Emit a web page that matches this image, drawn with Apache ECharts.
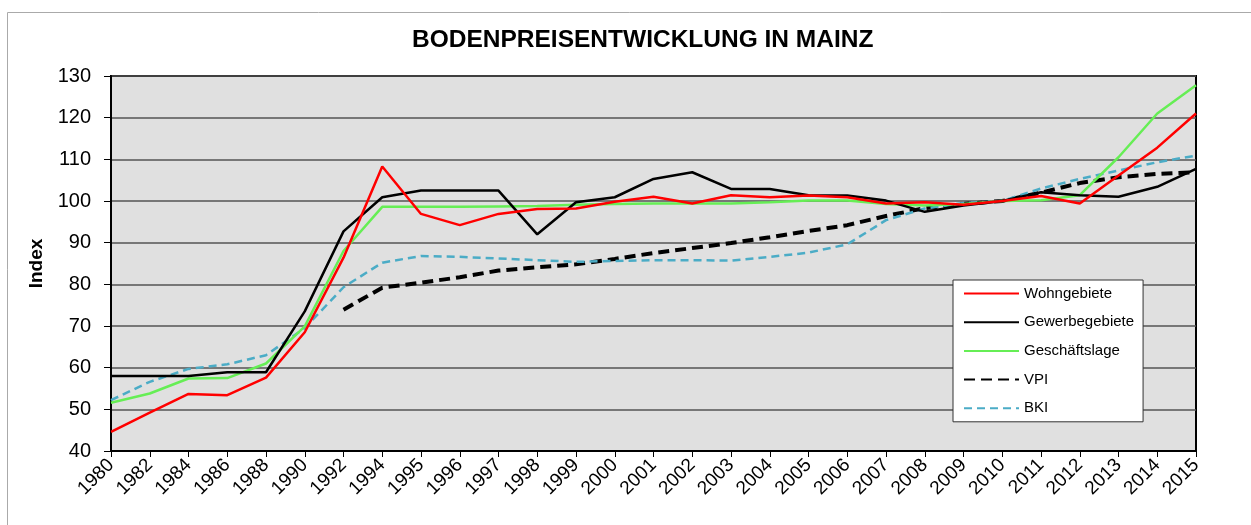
<!DOCTYPE html>
<html>
<head>
<meta charset="utf-8">
<script src="https://cdn.jsdelivr.net/npm/echarts@6/dist/echarts.min.js"></script>
<style>
  html, body { margin: 0; padding: 0; background: #fff; }
  #main { width: 1251px; height: 525px; }
</style>
</head>
<body>
<div id="main"></div>
<script>
var years = ["1980", "1982", "1984", "1986", "1988", "1990", "1992", "1994", "1995", "1996",
  "1997", "1998", "1999", "2000", "2001", "2002", "2003", "2004", "2005", "2006", "2007",
  "2008", "2009", "2010", "2011", "2012", "2013", "2014", "2015"];

var wohngebiete = [44.6, 49.2, 53.7, 53.4, 57.6, 68.5, 86.4, 108.3, 96.9, 94.2, 96.9, 98.1, 98.2, 99.8,
  101.0, 99.4, 101.4, 100.9, 101.3, 100.9, 99.4, 99.7, 99.1, 100, 101.2, 99.4, 106.1, 112.8, 121];
var gewerbegebiete = [58, 58, 58, 58.9, 58.9, 73.5, 92.7, 100.9, 102.5, 102.5, 102.5, 92, 99.7, 100.9,
  105.3, 106.9, 102.9, 102.9, 101.4, 101.3, 100.1, 97.4, 98.9, 100, 102.1, 101.4, 101, 103.4, 107.7];
var geschaeftslage = [51.6, 53.8, 57.4, 57.5, 61, 69.9, 88, 98.6, 98.6, 98.6, 98.7, 98.8, 99.1, 99.3,
  99.4, 99.4, 99.4, 99.7, 100.1, 100.1, 99.3, 98.9, 99.3, 100, 100.2, 101.4, 110.5, 121, 127.8];
var vpi = [null, null, null, null, null, null, 73.9, 79.2, 80.4, 81.7, 83.3, 84.1, 84.8, 86.1,
  87.5, 88.7, 89.9, 91.3, 92.8, 94.2, 96.4, 98.3, 99.3, 100, 102, 104.3, 105.7, 106.5, 106.9];
var bki = [52.2, 56.6, 59.7, 60.8, 63, 69.5, 79.3, 85.2, 86.8, 86.6, 86.2, 85.8, 85.4, 85.6,
  85.8, 85.8, 85.7, 86.6, 87.6, 89.6, 95.4, 98.2, 99.5, 100, 103, 105.3, 107.3, 109.3, 110.9];

var font = 'Arial, "Liberation Sans", sans-serif';

var chart = echarts.init(document.getElementById("main"));
chart.setOption({
  backgroundColor: "#fff",
  animation: false,
  textStyle: { fontFamily: font },
  title: {
    text: "BODENPREISENTWICKLUNG IN MAINZ",
    left: 407,
    top: 23,
    textStyle: { fontSize: 24.5, fontWeight: "bold", color: "#000", fontFamily: font }
  },
  graphic: [
    {
      type: "rect",
      shape: { x: 7.5, y: 12.5, width: 1400, height: 700 },
      style: { fill: "none", stroke: "#aaa", lineWidth: 1 },
      silent: true
    }
  ],
  grid: {
    left: 111,
    right: 55,
    top: 76,
    bottom: 74,
    show: true,
    backgroundColor: "#e0e0e0",
    borderColor: "#000",
    borderWidth: 2
  },
  legend: {
    orient: "vertical",
    left: 953,
    top: 280,
    backgroundColor: "#fff",
    borderColor: "#333",
    borderWidth: 1,
    padding: [6, 9, 6, 10],
    itemWidth: 55,
    itemHeight: 16,
    itemGap: 13.7,
    itemStyle: { opacity: 0 },
    textStyle: { fontSize: 15, color: "#000", fontFamily: font },
    data: ["Wohngebiete", "Gewerbegebiete", "Geschäftslage", "VPI", "BKI"]
  },
  xAxis: {
    type: "category",
    data: years,
    boundaryGap: false,
    axisLine: { lineStyle: { color: "#000", width: 2 } },
    axisTick: { show: true, length: 6, alignWithLabel: true, lineStyle: { color: "#000", width: 1 } },
    axisLabel: { rotate: 45, fontSize: 19, color: "#000", margin: 11, interval: 0, fontFamily: font },
    splitLine: { show: false }
  },
  yAxis: {
    type: "value",
    min: 40,
    max: 130,
    interval: 10,
    name: "Index",
    nameLocation: "middle",
    nameRotate: 90,
    nameGap: 64,
    nameTextStyle: { fontSize: 19, fontWeight: "bold", color: "#000", fontFamily: font },
    axisLine: { show: true, lineStyle: { color: "#000", width: 2 } },
    axisTick: { show: true, length: 7, lineStyle: { color: "#000", width: 1 } },
    axisLabel: { fontSize: 20, color: "#000", margin: 20, fontFamily: font },
    splitLine: { show: true, lineStyle: { color: "#555", width: 1.5 } }
  },
  series: [
    {
      name: "Wohngebiete",
      type: "line",
      data: wohngebiete,
      symbol: "none",
      color: "#ff0000",
      lineStyle: { color: "#ff0000", width: 2.5 },
      z: 5
    },
    {
      name: "Gewerbegebiete",
      type: "line",
      data: gewerbegebiete,
      symbol: "none",
      color: "#000",
      lineStyle: { color: "#000", width: 2.5 },
      z: 4
    },
    {
      name: "Geschäftslage",
      type: "line",
      data: geschaeftslage,
      symbol: "none",
      color: "#66ee55",
      lineStyle: { color: "#66ee55", width: 2.5 },
      z: 3
    },
    {
      name: "VPI",
      type: "line",
      data: vpi,
      symbol: "none",
      color: "#000",
      lineStyle: { color: "#000", width: 4, type: [11, 6] },
      z: 2
    },
    {
      name: "BKI",
      type: "line",
      data: bki,
      symbol: "none",
      color: "#4bacc6",
      lineStyle: { color: "#4bacc6", width: 2.5, type: [8, 5] },
      z: 2
    }
  ]
});
</script>
</body>
</html>
